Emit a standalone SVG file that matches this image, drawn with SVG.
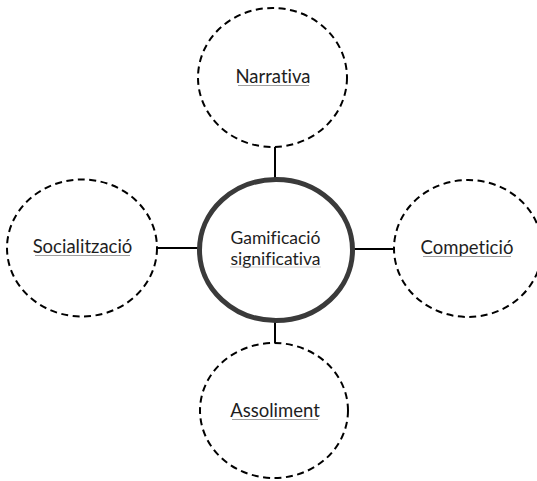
<svg xmlns="http://www.w3.org/2000/svg" width="537" height="481" viewBox="0 0 537 481">
<style>
.sat{fill:#fff;stroke:#000;stroke-width:2;stroke-dasharray:7 4.5}
.ctr{fill:#fff;stroke:#3a3a3a;stroke-width:5}
.lbl{font-family:Lato,"Open Sans","Liberation Sans",sans-serif;font-size:18.5px;fill:#1e1e1e;text-anchor:middle;font-variant-ligatures:none}
.cl{font-size:17.5px}
.ul{stroke:#a0a0a0;stroke-width:1}
.con{stroke:#000;stroke-width:2;fill:none}
</style>
<rect width="537" height="481" fill="#fff"/>
<g id="connectors">
<line class="con" x1="275" y1="147" x2="275" y2="178"/>
<line class="con" x1="275" y1="322" x2="275" y2="343"/>
<line class="con" x1="157" y1="248" x2="198" y2="248"/>
<line class="con" x1="354" y1="249" x2="394" y2="249"/>
</g>
<g id="narrativa">
<ellipse class="sat" cx="272.5" cy="77.5" rx="74.5" ry="69.5"/>
<text class="lbl" x="273" y="83">Narrativa</text>
<line class="ul" x1="238" y1="85.5" x2="309" y2="85.5"/>
</g>
<g id="socialitzacio">
<ellipse class="sat" cx="82" cy="248" rx="75" ry="68.5"/>
<text class="lbl" x="82.5" y="253">Socialització</text>
<line class="ul" x1="35" y1="255.5" x2="130" y2="255.5"/>
</g>
<g id="competicio">
<ellipse class="sat" cx="468" cy="248.5" rx="74" ry="68.5"/>
<text class="lbl" x="467" y="254">Competició</text>
<line class="ul" x1="423" y1="256.5" x2="511" y2="256.5"/>
</g>
<g id="assoliment">
<ellipse class="sat" cx="274" cy="410.5" rx="74" ry="67.5"/>
<text class="lbl" x="275" y="417">Assoliment</text>
<line class="ul" x1="232" y1="419.5" x2="318" y2="419.5"/>
</g>
<g id="gamificacio">
<ellipse class="ctr" cx="276" cy="250" rx="76.5" ry="70.5"/>
<text class="lbl cl" x="275.5" y="243.5">Gamificació</text>
<text class="lbl cl" x="275.5" y="264.5">significativa</text>
<line class="ul" x1="230" y1="267" x2="321" y2="267" stroke-opacity="0.5"/>
</g>
</svg>
